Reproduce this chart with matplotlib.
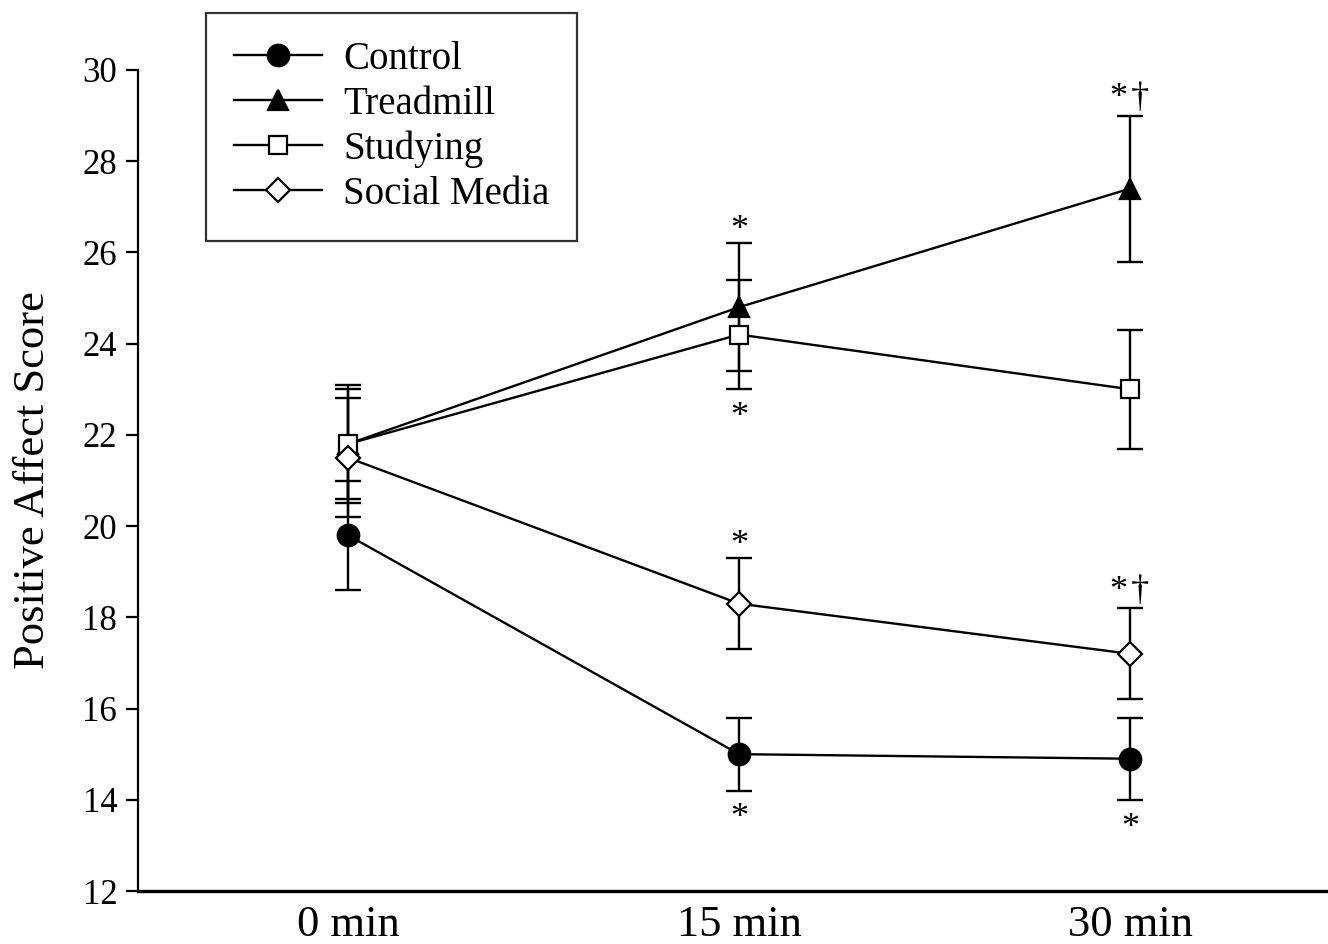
import matplotlib
matplotlib.use("Agg")
import matplotlib.pyplot as plt

# data
times = ["0 min", "15 min", "30 min"]
groups = ["Control", "Treadmill", "Studying", "Social Media"]

control = [19.8, 15.0, 14.9]
control_se = [1.2, 0.8, 0.9]
treadmill = [21.8, 24.8, 27.4]
treadmill_se = [1.3, 1.4, 1.6]
studying = [21.8, 24.2, 23.0]
studying_se = [1.2, 1.2, 1.3]
social = [21.5, 18.3, 17.2]
social_se = [1.3, 1.0, 1.0]

# significance marks: (group, time index, text, above/below)
marks = [
    ("Treadmill", 1, "*", "above"),
    ("Studying", 1, "*", "below"),
    ("Social Media", 1, "*", "above"),
    ("Control", 1, "*", "below"),
    ("Treadmill", 2, "*\u200a\u2020", "above"),
    ("Social Media", 2, "*\u200a\u2020", "above"),
    ("Control", 2, "*", "below"),
]

plt.rcParams["font.family"] = ["Liberation Serif", "DejaVu Serif"]

fig = plt.figure(figsize=(13.28, 9.44), dpi=100)
ax = fig.add_axes([138 / 1328, 53 / 944, 1 - 138 / 1328, 821 / 944])

series = {
    "Control": (control, control_se, dict(marker="o", mfc="black", ms=15.5)),
    "Treadmill": (treadmill, treadmill_se, dict(marker="^", mfc="black", ms=15)),
    "Studying": (studying, studying_se, dict(marker="s", mfc="white", ms=13.5)),
    "Social Media": (social, social_se, dict(marker="D", mfc="white", ms=12)),
}

x = list(range(len(times)))
for name in groups:
    vals, se, style = series[name]
    ax.errorbar(x, vals, yerr=se, fmt="none", ecolor="black", elinewidth=1.7,
                capsize=9.5, capthick=1.7, zorder=2)
    ax.plot(x, vals, color="black", lw=1.7, mec="black", mew=1.6,
            label=name, zorder=3, **style)

for name, i, txt, side in marks:
    vals, se, _ = series[name]
    if side == "above":
        dy = 3 if txt == "*" else 6
        ax.annotate(txt, (i, vals[i] + se[i]), xytext=(0, dy), textcoords="offset points",
                    ha="center", va="baseline", fontsize=26)
    else:
        ax.annotate(txt, (i, vals[i] - se[i]), xytext=(0, -26.5), textcoords="offset points",
                    ha="center", va="baseline", fontsize=26)

ax.set_xlim(-0.537, 2.506)
ax.set_ylim(12, 30)
ax.set_yticks(range(12, 31, 2))
ax.set_xticks(x)
ax.set_xticklabels(times, fontsize=32)
ax.tick_params(axis="x", length=0, pad=10)
ax.tick_params(axis="y", direction="out", length=9, width=1.6, labelsize=25, pad=6)
ax.set_ylabel("Positive Affect Score", fontsize=32, labelpad=21)

for s in ["top", "right"]:
    ax.spines[s].set_visible(False)
ax.spines["left"].set_linewidth(1.6)
ax.spines["bottom"].set_linewidth(2.4)

leg = ax.legend(loc="upper left", bbox_to_anchor=(206 / 1328, 931 / 944),
                bbox_transform=fig.transFigure, fontsize=28, frameon=True,
                fancybox=False, edgecolor="black", handlelength=2.25,
                labelspacing=0.2, borderpad=0.72, handletextpad=0.55, borderaxespad=0)
leg.get_frame().set_linewidth(1.6)
leg.set_zorder(5)

fig.savefig("out.png", dpi=100)
